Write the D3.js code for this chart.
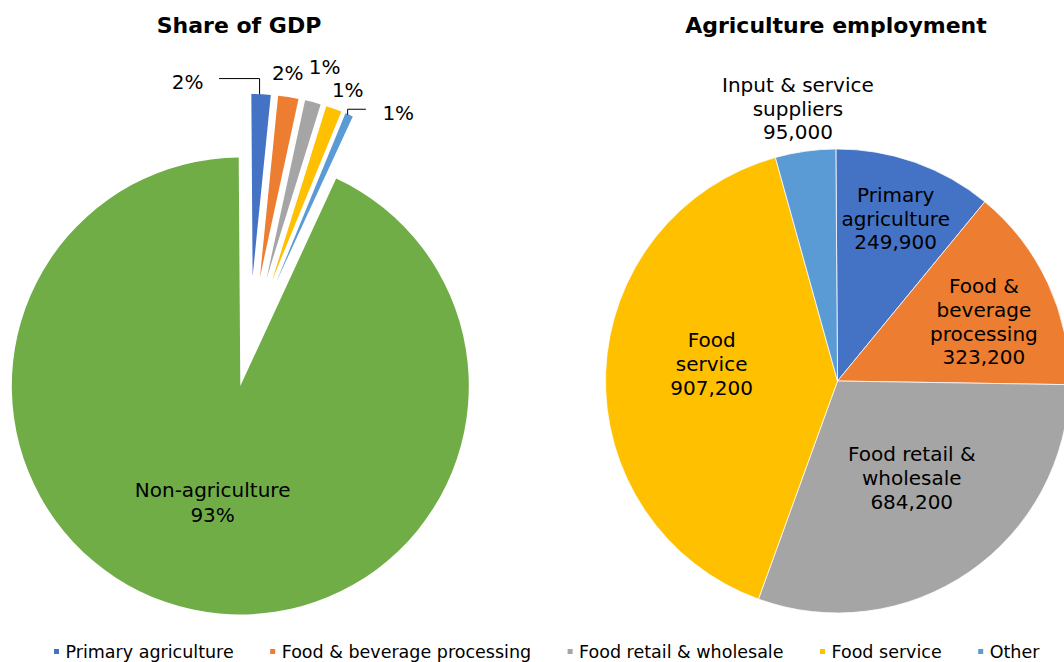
<!DOCTYPE html>
<html>
<head>
<meta charset="utf-8">
<script src="https://cdn.jsdelivr.net/npm/d3@7"></script>
<style>
  html, body { margin: 0; padding: 0; background: #ffffff; }
  svg { display: block; font-family: "DejaVu Sans", Verdana, sans-serif; }
</style>
</head>
<body>
<svg id="chart" width="1064" height="662"></svg>
<script>
// ---- Data -------------------------------------------------------------
// Share of GDP, in percent
const gdpCategories = ["Primary agriculture", "Food & beverage processing", "Food retail & wholesale", "Food service", "Other", "Non-agriculture"];
const gdpShares = [1.7, 1.8, 1.4, 1.4, 0.7, 93.0];

// Agriculture employment, persons (category names carry their label line breaks)
const empCategories = ["Primary\nagriculture", "Food &\nbeverage\nprocessing", "Food retail &\nwholesale", "Food\nservice", "Input & service\nsuppliers"];
const empValues = [249900, 323200, 684200, 907200, 95000];

// Legend entries
const legendLabels = ["Primary agriculture", "Food & beverage processing", "Food retail & wholesale", "Food service", "Other"];

// ---- Styling ----------------------------------------------------------
const palette = ["#4472C4", "#ED7D31", "#A5A5A5", "#FFC000", "#5B9BD5", "#70AD47"];
const textColor = "#000000";
const deg = Math.PI / 180;
const rotation = -0.4 * deg;   // first slice angle

const svg = d3.select("#chart");
const fmtInt = d3.format(",");

const pie = d3.pie().sort(null).value(d => d)
  .startAngle(rotation).endAngle(rotation + 2 * Math.PI);

function polar(cx, cy, r, a) { return [cx + r * Math.sin(a), cy - r * Math.cos(a)]; }

// ---- Titles -----------------------------------------------------------
svg.append("text").attr("x", 239).attr("y", 33).attr("text-anchor", "middle")
  .attr("font-size", 22).attr("font-weight", "bold").attr("fill", textColor).text("Share of GDP");
svg.append("text").attr("x", 836).attr("y", 33).attr("text-anchor", "middle")
  .attr("font-size", 22).attr("font-weight", "bold").attr("fill", textColor).text("Agriculture employment");

// ---- Left pie: Share of GDP ------------------------------------------
const gdp = {
  cx: 249.5, cy: 343.5,
  smallR: 182.5, smallExplode: 67,   // the five agri-food slices
  bigR: 228.5, bigExplode: 43.5      // the non-agriculture slice
};
const gdpArcs = pie(gdpShares);
const gLeft = svg.append("g");
const bigIndex = gdpShares.length - 1;

// label offsets from each small slice's outer-arc midpoint, plus whether a leader is drawn
const smallLabelLayout = [
  { dx: -73.4, dy: -12.3, leader: "left" },
  { dx: -0.6,  dy: -24.5, leader: null },
  { dx: 11.8,  dy: -35.2, leader: null },
  { dx: 13.9,  dy: -18.4, leader: null },
  { dx: 49.1,  dy: -2.1,  leader: "right" }
];

gdpArcs.forEach((a, i) => {
  const mid = (a.startAngle + a.endAngle) / 2;
  const isBig = i === bigIndex;
  const r = isBig ? gdp.bigR : gdp.smallR;
  const off = isBig ? gdp.bigExplode : gdp.smallExplode;
  const [ox, oy] = polar(gdp.cx, gdp.cy, off, mid);
  gLeft.append("path")
    .attr("transform", `translate(${ox},${oy})`)
    .attr("d", d3.arc().innerRadius(0).outerRadius(r)(a))
    .attr("fill", palette[i]);

  if (isBig) {
    const [lx, ly] = polar(ox, oy, 119.5, mid + 1.2 * deg);
    const lines = [gdpCategories[i], Math.round(gdpShares[i]) + "%"];
    lines.forEach((t, k) => {
      gLeft.append("text").attr("x", lx).attr("y", ly + (k - 0.5) * 25 + 7)
        .attr("text-anchor", "middle").attr("font-size", 20).attr("fill", textColor).text(t);
    });
  } else {
    const [mx, my] = polar(ox, oy, r, mid);
    const L = smallLabelLayout[i];
    const lx = mx + L.dx, ly = my + L.dy;
    const label = gLeft.append("text").attr("x", lx).attr("y", ly + 7)
      .attr("text-anchor", "middle").attr("font-size", 20).attr("fill", textColor)
      .text(Math.round(gdpShares[i]) + "%");
    if (L.leader) {
      const w = label.node().getComputedTextLength();
      const yl = ly - 3.4;
      const xEnd = L.leader === "left" ? lx + w / 2 + 15.5 : lx - w / 2 - 16.5;
      gLeft.append("path")
        .attr("d", d3.line()([[mx - 1.5, my], [mx - 1.5, yl], [xEnd, yl]]))
        .attr("fill", "none").attr("stroke", "#000").attr("stroke-width", 1);
    }
  }
});

// ---- Right pie: Agriculture employment --------------------------------
const emp = { cx: 837.5, cy: 381, r: 232 };
const empArcs = pie(empValues);
const gRight = svg.append("g").attr("transform", `translate(${emp.cx},${emp.cy})`);
const empArc = d3.arc().innerRadius(0).outerRadius(emp.r);

gRight.selectAll("path").data(empArcs).join("path")
  .attr("d", empArc)
  .attr("fill", (d, i) => palette[i])
  .attr("stroke", "#ffffff").attr("stroke-width", 0.75);

// label placement: distance from centre (px) and angular nudge (deg) off the slice bisector
const empLabelLayout = [
  { r: 172.5, da: 0.2 },
  { r: 158,   da: 2.75 },
  { r: 122.3, da: -2.8 },
  { r: 127,   da: 5.5 },
  { r: 275.3, da: -0.3 }
];
empArcs.forEach((a, i) => {
  const mid = (a.startAngle + a.endAngle) / 2 + empLabelLayout[i].da * deg;
  const [lx, ly] = polar(0, 0, empLabelLayout[i].r, mid);
  const lines = empCategories[i].split("\n").concat([fmtInt(empValues[i])]);
  const n = lines.length, lh = 23.8;
  lines.forEach((t, k) => {
    gRight.append("text").attr("x", lx).attr("y", ly + (k - (n - 1) / 2) * lh + 7)
      .attr("text-anchor", "middle").attr("font-size", 20).attr("fill", textColor).text(t);
  });
});

// ---- Legend -----------------------------------------------------------
const gLegend = svg.append("g");
let lx = 54;
legendLabels.forEach((t, i) => {
  gLegend.append("rect").attr("x", lx).attr("y", 649).attr("width", 5).attr("height", 5)
    .attr("fill", palette[i]);
  const tx = gLegend.append("text").attr("x", lx + 11.5).attr("y", 657.5)
    .attr("font-size", 17.5).attr("fill", textColor).text(t);
  lx += 11.5 + tx.node().getComputedTextLength() + 36.5;
});
</script>
</body>
</html>
